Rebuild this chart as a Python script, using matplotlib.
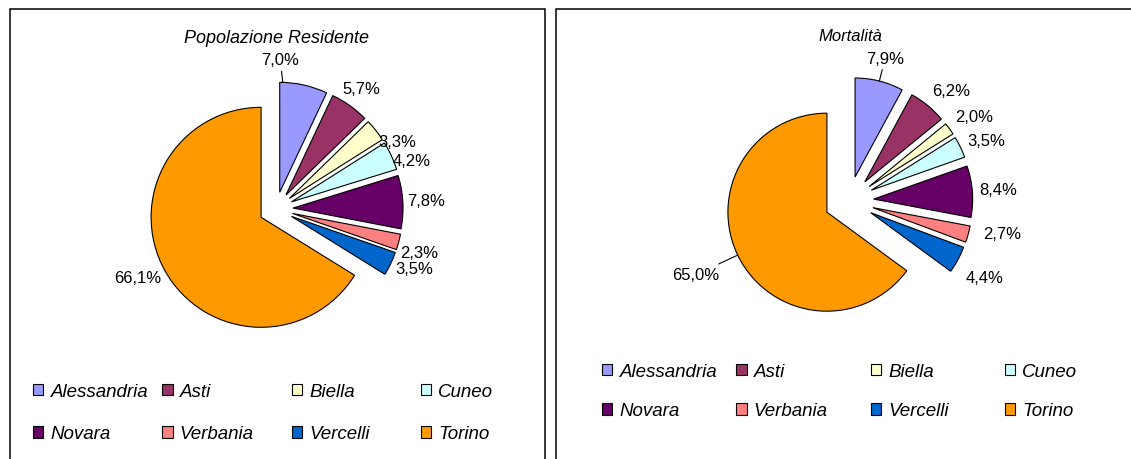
import numpy as np
import matplotlib
matplotlib.use('Agg')
import matplotlib.pyplot as plt
from matplotlib.patches import Rectangle, Patch

plt.rcParams['font.family'] = ['Liberation Sans', 'DejaVu Sans']

# dati
province = ['Alessandria', 'Asti', 'Biella', 'Cuneo',
            'Novara', 'Verbania', 'Vercelli', 'Torino']
colori = ['#9999FF', '#993366', '#FFFFCC', '#CCFFFF',
          '#660066', '#FF8080', '#0066CC', '#FF9900']

pop_residente = [7.0, 5.7, 3.3, 4.2, 7.8, 2.3, 3.5, 66.1]
mortalita = [7.9, 6.2, 2.0, 3.5, 8.4, 2.7, 4.4, 65.0]

W, H = 1131, 460
fig = plt.figure(figsize=(W / 100, H / 100), dpi=100)

# cornici dei due pannelli (in pixel)
fig.patches.append(Rectangle((10 / W, -0.05), 535 / W, 1.05 - 10 / H,
                             transform=fig.transFigure, fill=False,
                             edgecolor='black', linewidth=1.1))
fig.patches.append(Rectangle((556 / W, -0.05), 0.6, 1.05 - 10 / H,
                             transform=fig.transFigure, fill=False,
                             edgecolor='black', linewidth=1.1))


def torta(cx, cy, r, valori, explode, dist, nudge, leader):
    """disegna una torta con centro (cx, cy) e raggio r in pixel"""
    half = 2 * r
    ax = fig.add_axes([(cx - half) / W, (H - cy - half) / H,
                       2 * half / W, 2 * half / H])
    wedges, _ = ax.pie(valori, colors=colori, startangle=90, counterclock=False,
                       explode=[explode] * len(valori), radius=1,
                       wedgeprops=dict(edgecolor='black', linewidth=0.8))
    for i, w in enumerate(wedges):
        mid = np.deg2rad((w.theta1 + w.theta2) / 2 + nudge[i])
        pos = (dist[i] * np.cos(mid), dist[i] * np.sin(mid))
        testo = f'{valori[i]:.1f}%'.replace('.', ',')
        if leader[i]:
            cxw, cyw = w.center
            arc = (cxw + np.cos(mid), cyw + np.sin(mid))
            ax.annotate(testo, xy=arc, xytext=pos, ha='center', va='center',
                        fontsize=12,
                        arrowprops=dict(arrowstyle='-', lw=0.8, color='black',
                                        shrinkA=1, shrinkB=0))
        else:
            ax.text(pos[0], pos[1], testo, ha='center', va='center', fontsize=12)
    ax.set_xlim(-2, 2)
    ax.set_ylim(-2, 2)
    ax.axis('off')
    return wedges


def legenda(x0, y0, dx, dy):
    """legenda 4 colonne x 2 righe, colonne equidistanti"""
    for c in range(4):
        idx = [c, c + 4]
        handles = [Patch(facecolor=colori[i], edgecolor='black', linewidth=0.8)
                   for i in idx]
        fig.legend(handles, [province[i] for i in idx],
                   loc='upper left',
                   bbox_to_anchor=((x0 + c * dx) / W, (H - y0) / H),
                   frameon=False, borderpad=0, borderaxespad=0,
                   handlelength=0.55, handleheight=0.55,
                   handletextpad=0.38, labelspacing=dy,
                   prop=dict(size=13.5, style='italic'))


# pannello sinistro
torta(276, 210, 110, pop_residente, 0.155,
      dist=[1.36, 1.34, 1.26, 1.31, 1.37, 1.36, 1.37, 1.40],
      nudge=[11, 0, -9, -5, 0, -1.7, 2.4, -2.7],
      leader=[True, False, False, False, False, False, False, False])
fig.text(277 / W, (H - 43) / H, 'Popolazione Residente', ha='center',
         va='baseline', fontsize=13, style='italic')
legenda(33, 384, 129.3, 1.36)

# pannello destro
torta(849, 202, 99, mortalita, 0.25,
      dist=[1.49, 1.52, 1.52, 1.52, 1.51, 1.58, 1.57, 1.72],
      nudge=[0, -3.3, -1.7, -1.9, 0, 3.5, -1, -1.2],
      leader=[True, False, False, False, False, False, False, True])
fig.text(850 / W, (H - 41) / H, 'Mortalità', ha='center',
         va='baseline', fontsize=12, style='italic')
legenda(602, 364, 134.3, 1.2)

fig.savefig('out.png', dpi=100)
